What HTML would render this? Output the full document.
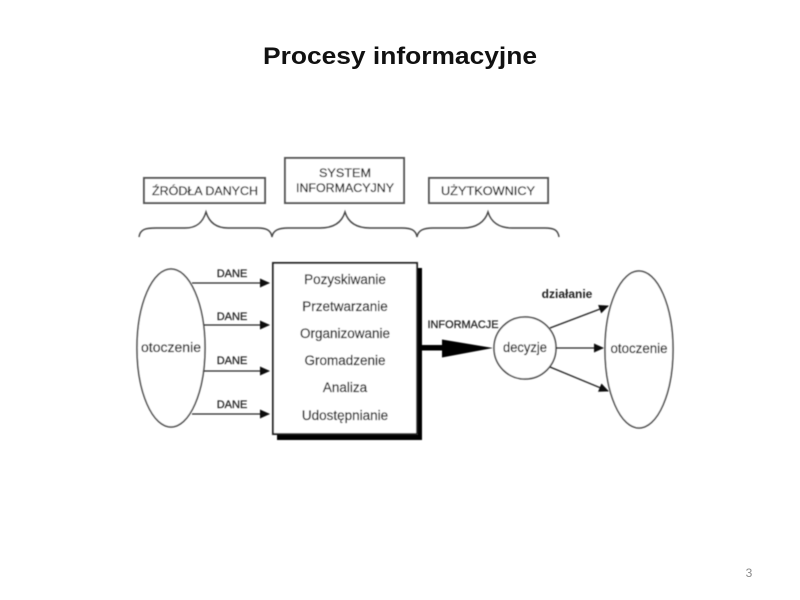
<!DOCTYPE html>
<html><head><meta charset="utf-8">
<style>
html,body{margin:0;padding:0;background:#fff;width:800px;height:600px;overflow:hidden}
svg{position:absolute;left:0;top:0}
text{font-family:"Liberation Sans",sans-serif}
</style></head><body>
<svg width="800" height="600" viewBox="0 0 800 600" xmlns="http://www.w3.org/2000/svg">
<defs>
<filter id="b" x="-5%" y="-5%" width="110%" height="110%"><feGaussianBlur stdDeviation="0.65"/></filter>
<marker id="a" markerUnits="userSpaceOnUse" markerWidth="10" markerHeight="9" refX="9" refY="4.5" orient="auto"><path d="M0 0L10 4.5L0 9z" fill="#111"/></marker>
</defs>
<rect width="800" height="600" fill="#fff"/>
<text x="400" y="64" text-anchor="middle" font-size="24.500" font-weight="bold" fill="#111" textLength="274" lengthAdjust="spacingAndGlyphs">Procesy informacyjne</text>
<text x="749" y="577" text-anchor="middle" font-size="12" fill="#8a8a8a">3</text>
<g filter="url(#b)">
<g fill="#fff" stroke="#555" stroke-width="2">
<rect x="144" y="178" width="121" height="25"/>
<rect x="285" y="158" width="119" height="45"/>
<rect x="429" y="178" width="119" height="25"/>
</g>
<g font-size="12" fill="#222" stroke="#222" stroke-width="0.25" text-anchor="middle">
<text x="205" y="195" textLength="106" lengthAdjust="spacingAndGlyphs">ŹRÓDŁA DANYCH</text>
<text x="345" y="177" textLength="52" lengthAdjust="spacingAndGlyphs">SYSTEM</text>
<text x="345" y="192" textLength="98" lengthAdjust="spacingAndGlyphs">INFORMACYJNY</text>
<text x="488" y="195" textLength="94" lengthAdjust="spacingAndGlyphs">UŻYTKOWNICY</text>
</g>
<g fill="none" stroke="#444" stroke-width="1.4">
<path d="M139 237C140 229 146 228 156 228L185 228C197 228 203 222 206 212C209 222 216 228 228 228L258 228C266 228 271 230 272 237C273 230 279 228 288 228L320 228C334 228 342 222 345 212C348 222 356 228 370 228L402 228C411 228 416 230 417 237C418 230 424 228 433 228L463 228C476 228 485 222 488 212C491 222 499 228 512 228L545 228C554 228 558 230 559 237"/>
</g>
<rect x="277" y="268" width="145" height="172" fill="#000"/>
<rect x="273" y="263" width="144" height="171" fill="#fff" stroke="#222" stroke-width="2"/>
<g fill="#fff" stroke="#444" stroke-width="1.5">
<ellipse cx="171" cy="348" rx="34" ry="79"/>
<ellipse cx="639" cy="349.5" rx="34" ry="78.5"/>
<circle cx="525" cy="348" r="31"/>
</g>
<g stroke="#222" stroke-width="1.3" fill="none">
<path d="M192 283H269" marker-end="url(#a)"/>
<path d="M204 325H269" marker-end="url(#a)"/>
<path d="M204 371H269" marker-end="url(#a)"/>
<path d="M192 414H269" marker-end="url(#a)"/>
<path d="M550 328L608 306" marker-end="url(#a)"/>
<path d="M556 348H603" marker-end="url(#a)"/>
<path d="M550 367L608 391" marker-end="url(#a)"/>
</g>
<rect x="421" y="345" width="23" height="5.500" fill="#000"/>
<path d="M442 339.500L493 348L442 357.500z" fill="#000"/>
<g font-size="13.500" fill="#222" stroke="#222" stroke-width="0.25" text-anchor="middle">
<text x="232" y="277" font-size="11">DANE</text>
<text x="232" y="320" font-size="11">DANE</text>
<text x="232" y="364" font-size="11">DANE</text>
<text x="232" y="408" font-size="11">DANE</text>
<text x="345" y="284">Pozyskiwanie</text>
<text x="345" y="311">Przetwarzanie</text>
<text x="345" y="338">Organizowanie</text>
<text x="345" y="365">Gromadzenie</text>
<text x="345" y="392">Analiza</text>
<text x="345" y="420">Udostępnianie</text>
<text x="171" y="352" textLength="60" lengthAdjust="spacingAndGlyphs">otoczenie</text>
<text x="639" y="353" textLength="57" lengthAdjust="spacingAndGlyphs">otoczenie</text>
<text x="525" y="352" textLength="44" lengthAdjust="spacingAndGlyphs">decyzje</text>
<text x="463" y="328" font-size="11" textLength="71" lengthAdjust="spacingAndGlyphs">INFORMACJE</text>
<text x="567" y="298" font-size="12" font-weight="bold" stroke="none">działanie</text>
</g>
</g>
</svg>
</body></html>
